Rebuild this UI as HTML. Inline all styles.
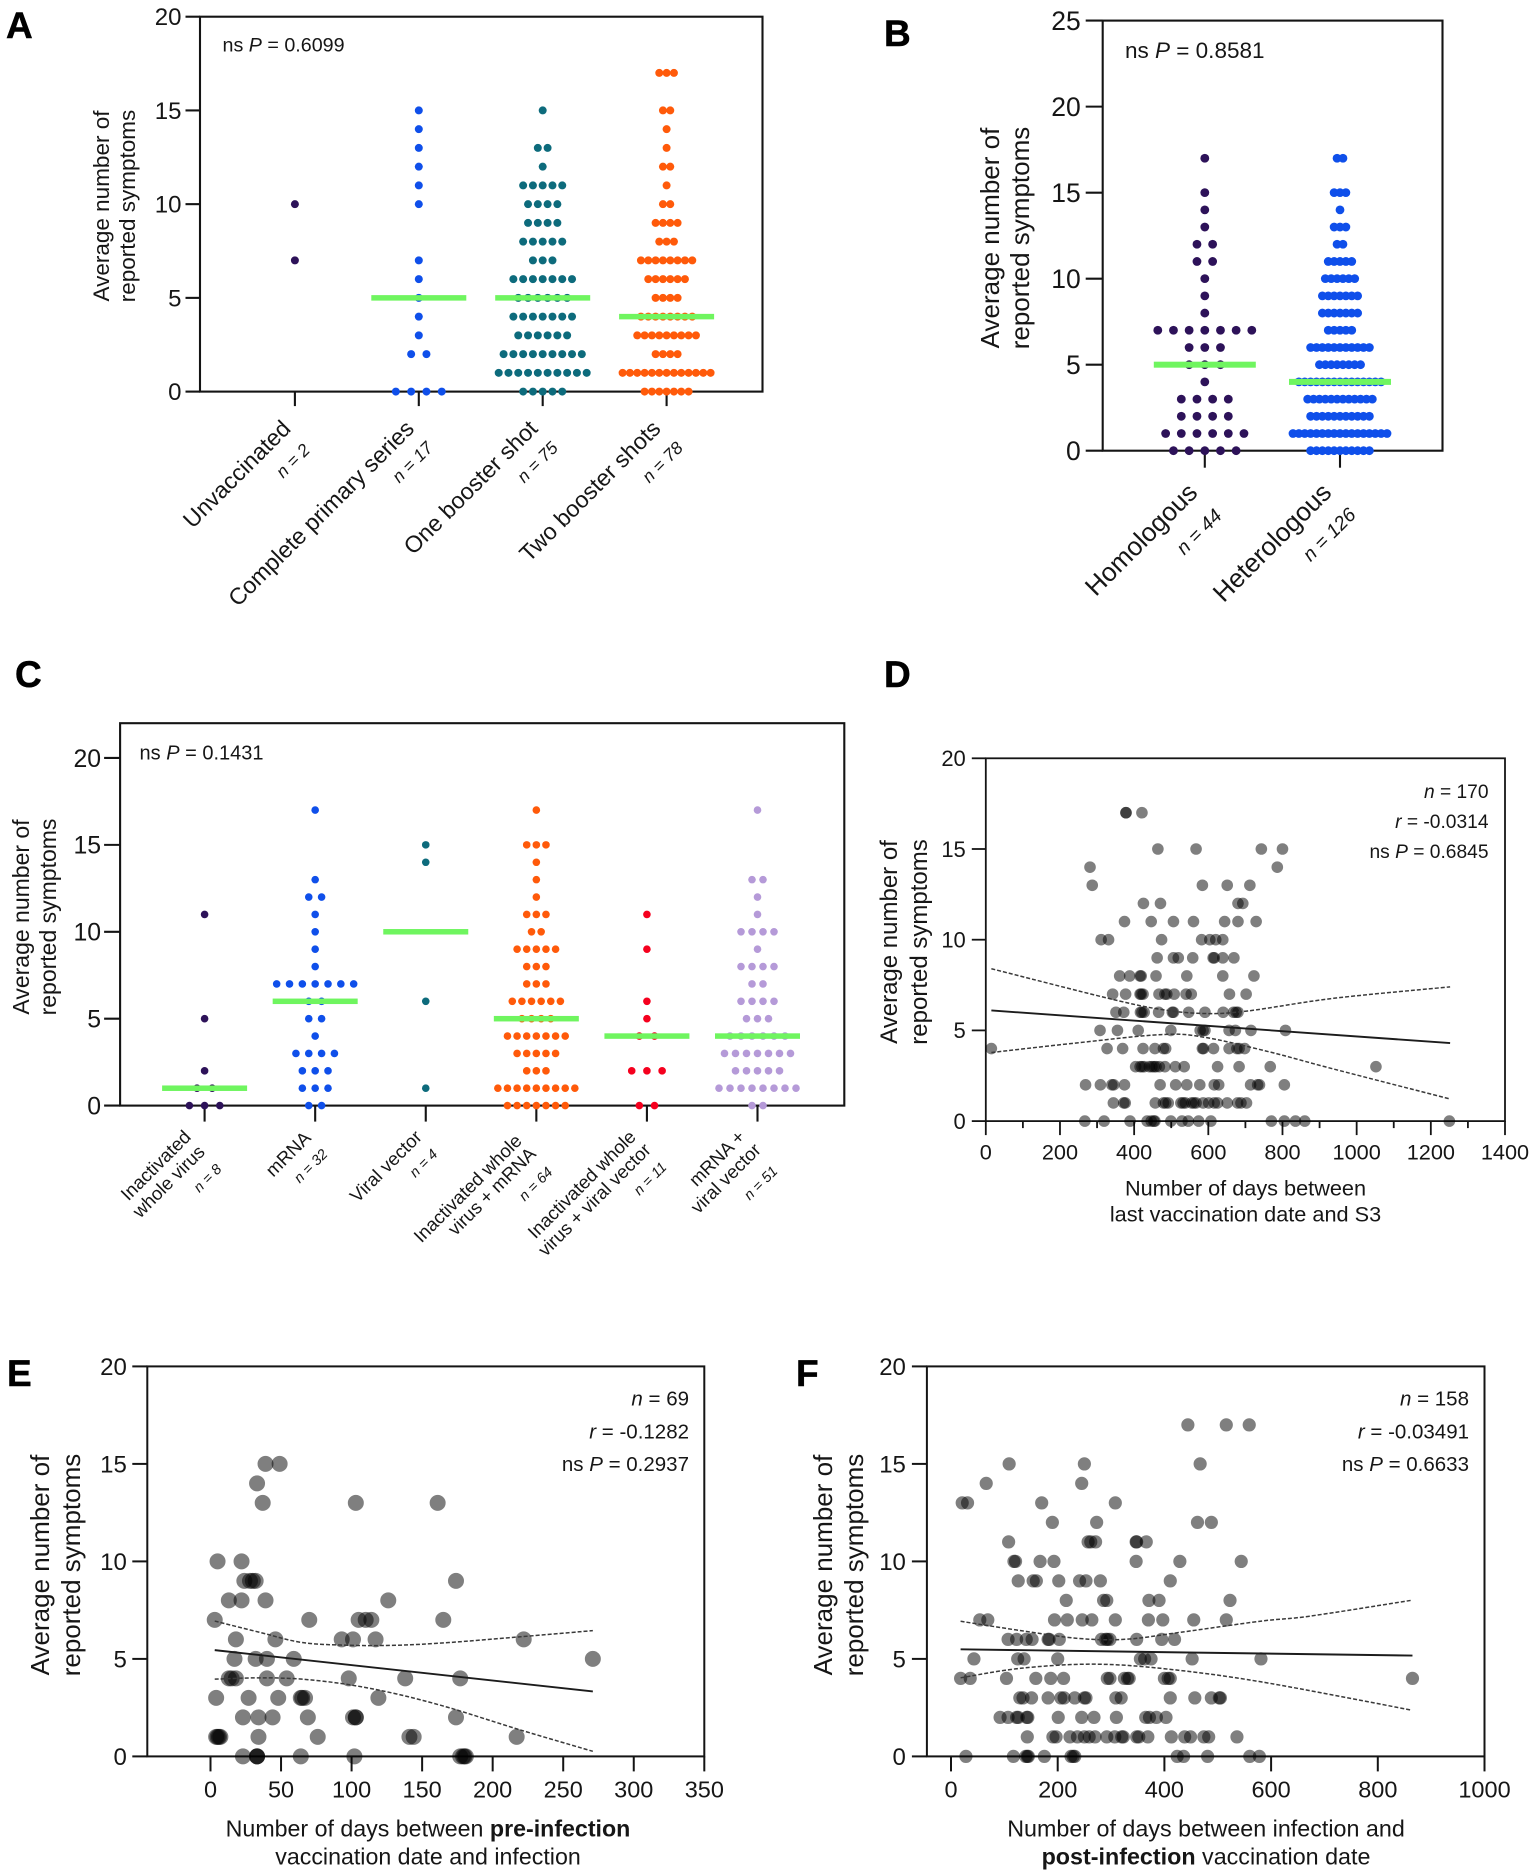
<!DOCTYPE html>
<html lang="en">
<head>
<meta charset="utf-8">
<title>Average number of reported symptoms by vaccination status</title>
<style>
  html, body { margin: 0; padding: 0; background: #fff; }
  #figure { display: block; width: 1535px; height: 1876px; font-family: "Liberation Sans", Arial, sans-serif; }
  #figure text { fill: #161616; font-family: "Liberation Sans", Arial, sans-serif; }
  #figure .panel-letter { font-weight: 700; font-size: 37px; fill: #000; stroke: #000; stroke-width: 0.5px; }
</style>
</head>
<body>
<svg id="figure" xmlns="http://www.w3.org/2000/svg" width="1535" height="1876" viewBox="0 0 1535 1876">
  <rect x="0" y="0" width="1535" height="1876" fill="#fff"/>
  <g id="marks"></g>

  <!-- Panel letters -->
  <text class="panel-letter" x="6" y="38">A</text>
  <text class="panel-letter" x="884" y="46">B</text>
  <text class="panel-letter" x="15" y="687">C</text>
  <text class="panel-letter" x="884" y="687">D</text>
  <text class="panel-letter" x="7" y="1386">E</text>
  <text class="panel-letter" x="796" y="1386">F</text>

  <!-- Panel A text -->
  <text x="222.5" y="51.5" font-size="19.7">ns <tspan font-style="italic">P</tspan> = 0.6099</text>
  <g font-size="22.5" text-anchor="middle">
    <text transform="translate(109,206) rotate(-90)">Average number of</text>
    <text transform="translate(135,206) rotate(-90)">reported symptoms</text>
  </g>
  <g font-size="23.2" text-anchor="end">
    <text transform="translate(292,430) rotate(-45)">Unvaccinated</text>
    <text transform="translate(415.5,430) rotate(-45)">Complete primary series</text>
    <text transform="translate(539,430) rotate(-45)">One booster shot</text>
    <text transform="translate(662,430) rotate(-45)">Two booster shots</text>
  </g>
  <g font-size="17.5" font-style="italic" text-anchor="end">
    <text transform="translate(311,451) rotate(-45)">n = 2</text>
    <text transform="translate(434,449) rotate(-45)">n = 17</text>
    <text transform="translate(559,449) rotate(-45)">n = 75</text>
    <text transform="translate(684,449) rotate(-45)">n = 78</text>
  </g>

  <!-- Panel B text -->
  <text x="1125" y="58" font-size="22.5">ns <tspan font-style="italic">P</tspan> = 0.8581</text>
  <g font-size="26" text-anchor="middle">
    <text transform="translate(999,238) rotate(-90)">Average number of</text>
    <text transform="translate(1029,238) rotate(-90)">reported symptoms</text>
  </g>
  <g font-size="26" text-anchor="end">
    <text transform="translate(1199,494) rotate(-45)">Homologous</text>
    <text transform="translate(1333,494) rotate(-45)">Heterologous</text>
  </g>
  <g font-size="19.5" font-style="italic" text-anchor="end">
    <text transform="translate(1223,517) rotate(-45)">n = 44</text>
    <text transform="translate(1357,516) rotate(-45)">n = 126</text>
  </g>

  <!-- Panel C text -->
  <text x="139.5" y="759.5" font-size="20">ns <tspan font-style="italic">P</tspan> = 0.1431</text>
  <g font-size="23" text-anchor="middle">
    <text transform="translate(29,917) rotate(-90)">Average number of</text>
    <text transform="translate(56,917) rotate(-90)">reported symptoms</text>
  </g>
  <g font-size="18.6" text-anchor="end">
    <text transform="translate(192,1138) rotate(-45)">Inactivated</text>
    <text transform="translate(206,1153) rotate(-45)">whole virus</text>
    <text transform="translate(312,1139) rotate(-45)">mRNA</text>
    <text transform="translate(423,1138) rotate(-45)">Viral vector</text>
    <text transform="translate(523,1142) rotate(-45)">Inactivated whole</text>
    <text transform="translate(537,1155) rotate(-45)">virus + mRNA</text>
    <text transform="translate(637,1138) rotate(-45)">Inactivated whole</text>
    <text transform="translate(652,1151) rotate(-45)">virus + viral vector</text>
    <text transform="translate(746,1138) rotate(-45)">mRNA +</text>
    <text transform="translate(762,1151) rotate(-45)">viral vector</text>
  </g>
  <g font-size="14.5" font-style="italic" text-anchor="end">
    <text transform="translate(222.5,1170) rotate(-45)">n = 8</text>
    <text transform="translate(328.5,1155) rotate(-45)">n = 32</text>
    <text transform="translate(438.5,1155) rotate(-45)">n = 4</text>
    <text transform="translate(553.5,1173) rotate(-45)">n = 64</text>
    <text transform="translate(667.5,1168) rotate(-45)">n = 11</text>
    <text transform="translate(778.5,1172) rotate(-45)">n = 51</text>
  </g>

  <!-- Panel D text -->
  <g font-size="19.2" text-anchor="end">
    <text x="1488.5" y="798"><tspan font-style="italic">n</tspan> = 170</text>
    <text x="1488.5" y="828"><tspan font-style="italic">r</tspan> = -0.0314</text>
    <text x="1488.5" y="858">ns <tspan font-style="italic">P</tspan> = 0.6845</text>
  </g>
  <g font-size="24" text-anchor="middle">
    <text transform="translate(897,942) rotate(-90)">Average number of</text>
    <text transform="translate(927,942) rotate(-90)">reported symptoms</text>
  </g>
  <g font-size="21.7" text-anchor="middle">
    <text x="1245.5" y="1195.5">Number of days between</text>
    <text x="1245.5" y="1221.5">last vaccination date and S3</text>
  </g>

  <!-- Panel E text -->
  <g font-size="20.5" text-anchor="end">
    <text x="689" y="1405.5"><tspan font-style="italic">n</tspan> = 69</text>
    <text x="689" y="1438.5"><tspan font-style="italic">r</tspan> = -0.1282</text>
    <text x="689" y="1471">ns <tspan font-style="italic">P</tspan> = 0.2937</text>
  </g>
  <g font-size="26" text-anchor="middle">
    <text transform="translate(49,1565) rotate(-90)">Average number of</text>
    <text transform="translate(80,1565) rotate(-90)">reported symptoms</text>
  </g>
  <g font-size="23.2" text-anchor="middle">
    <text x="428" y="1836.5">Number of days between <tspan font-weight="700">pre-infection</tspan></text>
    <text x="428" y="1864.5">vaccination date and infection</text>
  </g>

  <!-- Panel F text -->
  <g font-size="20.5" text-anchor="end">
    <text x="1469" y="1405.5"><tspan font-style="italic">n</tspan> = 158</text>
    <text x="1469" y="1438.5"><tspan font-style="italic">r</tspan> = -0.03491</text>
    <text x="1469" y="1471">ns <tspan font-style="italic">P</tspan> = 0.6633</text>
  </g>
  <g font-size="26" text-anchor="middle">
    <text transform="translate(832,1565) rotate(-90)">Average number of</text>
    <text transform="translate(863,1565) rotate(-90)">reported symptoms</text>
  </g>
  <g font-size="23.3" text-anchor="middle">
    <text x="1206" y="1836.5">Number of days between infection and</text>
    <text x="1206" y="1864.5"><tspan font-weight="700">post-infection</tspan> vaccination date</text>
  </g>
</svg>

<script>
/* ---------- Dot-plot data: each array gives the number of respondents at symptom count 0,1,2,... ---------- */
const aCategories = ['unvaccinated', 'complete-primary-series', 'one-booster-shot', 'two-booster-shots'];
const aUnvaccinated = [0,0,0,0,0,0,0,1,0,0,1];
const aPrimarySeries = [4,0,2,1,1,1,1,1,0,0,1,1,1,1,1,1];
const aOneBooster = [5,10,9,6,7,6,7,3,5,4,4,5,1,2,0,1];
const aTwoBoosters = [7,13,4,9,8,4,6,8,3,4,2,1,2,1,1,2,0,3];
const aMedians = [null, 5, 5, 4];
const aYTicks = [0, 5, 10, 15, 20];

const bCategories = ['homologous', 'heterologous'];
const bHomologous = [5,6,4,4,1,3,3,7,1,1,1,2,2,1,1,1,0,1];
const bHeterologous = [11,17,11,12,15,8,11,5,7,7,6,5,2,3,1,3,0,2];
const bMedians = [5, 4];
const bYTicks = [0, 5, 10, 15, 20, 25];

const cCategories = ['inactivated-whole-virus', 'mrna', 'viral-vector', 'inactivated-plus-mrna', 'inactivated-plus-viral-vector', 'mrna-plus-viral-vector'];
const cInactivated = [3,2,1,0,0,1,0,0,0,0,0,1];
const cMrna = [2,3,3,4,1,2,2,7,1,1,1,1,2,1,0,0,0,1];
const cViralVector = [0,1,0,0,0,0,1,0,0,0,0,0,0,0,1,1];
const cInactMrna = [7,9,3,5,7,4,6,3,3,5,2,3,1,1,1,3,0,1];
const cInactViral = [2,0,3,0,2,1,1,0,0,1,0,1];
const cMrnaViral = [2,8,5,7,6,3,4,2,4,1,4,1,1,2,0,0,0,1];
const cMedians = [1, 6, 10, 5, 4, 4];
const cYTicks = [0, 5, 10, 15, 20];

/* ---------- Scatter data: outer index is the symptom count, inner values are days ---------- */
const dDaysBySymptoms = [
  [267,319,389,435,446,453,456,499,529,546,574,607,770,805,835,860,1250],
  [344,372,376,457,479,485,492,526,532,538,555,561,567,586,601,616,625,651,679,688,703],
  [269,309,340,345,374,470,512,542,577,616,628,714,733,738,805],
  [404,416,421,427,441,448,454,459,468,483,511,535,625,683,767,1052],
  [15,327,369,424,456,479,485,584,587,614,656,677,683,698],
  [308,355,411,499,578,586,591,656,673,715,808],
  [351,372,417,421,427,466,503,506,547,591,640,668,675,680],
  [342,377,416,419,424,467,483,488,508,540,554,657,702],
  [361,388,416,419,459,542,639,723],
  [462,506,519,558,613,616,639,669],
  [311,331,474,582,604,620,639],
  [374,446,506,560,644,680,729],
  [425,471,680,693],
  [287,584,651,712],
  [281,786],
  [464,567,743,800],
  [],
  [378,378,421]
];
const dFitDays = [15, 1252];
const dFitSymptoms = [6.1, 4.3];
const dUpperDays = [15, 334, 474, 590, 706, 938, 1252];
const dUpperSymptoms = [8.4, 6.75, 6.15, 5.93, 6.07, 6.77, 7.4];
const dLowerDays = [15, 241, 474, 590, 764, 938, 1252];
const dLowerSymptoms = [3.78, 4.3, 4.77, 4.62, 3.82, 2.87, 1.22];
const dXTicks = [0, 200, 400, 600, 800, 1000, 1200, 1400];
const dXMinorTicks = [100, 300, 500, 700, 900, 1100, 1300];
const dYTicks = [0, 5, 10, 15, 20];

const eDaysBySymptoms = [
  [23,33,33,33,64,102,177,179,180,181],
  [4,5,6,7,34,76,141,144,217],
  [23,34,44,69,101,103,103,174],
  [4,27,48,64,65,67,119],
  [13,15,18,40,54,98,138,177],
  [17,32,40,59,271],
  [18,46,93,101,117,222],
  [3,70,105,110,114,165],
  [13,22,39,126],
  [24,28,30,32,174],
  [5,22],
  [],
  [],
  [37,103,161],
  [33],
  [39,49]
];
const eFitDays = [3, 271];
const eFitSymptoms = [5.45, 3.33];
const eUpperDays = [3, 35, 65, 98, 132, 169, 219, 271];
const eUpperSymptoms = [6.94, 6.36, 5.84, 5.7, 5.7, 5.84, 6.13, 6.45];
const eLowerDays = [3, 35, 65, 98, 132, 169, 219, 271];
const eLowerSymptoms = [3.96, 4.03, 3.96, 3.68, 3.2, 2.5, 1.37, 0.26];
const eXTicks = [0, 50, 100, 150, 200, 250, 300, 350];
const eYTicks = [0, 5, 10, 15, 20];

const fDaysBySymptoms = [
  [28,117,140,143,145,175,225,229,232,424,436,481,560,578],
  [143,191,197,223,237,250,259,270,292,307,320,323,348,352,369,413,438,449,474,483,536],
  [92,107,123,126,142,144,201,245,268,310,365,372,385,403],
  [129,135,151,182,206,212,232,250,253,309,319,411,457,488,503,505],
  [18,36,104,159,187,211,293,298,325,331,334,400,407,411,865],
  [43,125,137,200,355,363,375,452,581],
  [107,123,141,152,182,184,203,282,290,293,298,348,395,419],
  [54,69,194,218,246,264,308,370,397,455,516],
  [216,286,292,371,390,523],
  [126,154,160,202,241,253,280,411],
  [118,121,167,193,347,429,544],
  [108,257,262,271,347,348,366],
  [190,273,462,488],
  [21,31,170,308],
  [66,245],
  [109,250,467],
  [],
  [444,516,559]
];
const fFitDays = [18, 865];
const fFitSymptoms = [5.49, 5.17];
const fUpperDays = [18, 131, 239, 329, 429, 582, 672, 862];
const fUpperSymptoms = [6.93, 6.45, 6.05, 6.01, 6.36, 6.94, 7.19, 8];
const fLowerDays = [18, 131, 266, 402, 582, 862];
const fLowerSymptoms = [4.03, 4.52, 4.73, 4.49, 3.82, 2.38];
const fXTicks = [0, 200, 400, 600, 800, 1000];
const fYTicks = [0, 5, 10, 15, 20];

/* ---------- Drawing helpers ---------- */
const SVG_NS = 'http://www.w3.org/2000/svg';
const marks = document.getElementById('marks');

function linearScale(d0, d1, r0, r1) {
  return function (v) { return r0 + (v - d0) * (r1 - r0) / (d1 - d0); };
}
function make(tag, parent, props) {
  const node = document.createElementNS(SVG_NS, tag);
  Object.keys(props).forEach(function (k) { node.setAttribute(k, props[k]); });
  parent.appendChild(node);
  return node;
}
function label(node, name) {
  
  
  return node;
}
function drawLine(parent, x1, y1, x2, y2, width, name) {
  const ln = make('line', parent, { x1: x1, y1: y1, x2: x2, y2: y2, stroke: '#141414', 'stroke-width': width });
  return label(ln, name);
}
function drawTickText(parent, x, y, size, anchor, text, name) {
  const t = make('text', parent, { x: x, y: y, 'font-size': size, 'text-anchor': anchor });
  t.textContent = text;
  return label(t, name);
}
function drawFrame(g, cfg, yScale, yTicks, prefix) {
  const f = make('rect', g, { x: cfg.left, y: cfg.top, width: cfg.right - cfg.left, height: cfg.bottom - cfg.top, fill: 'none', stroke: '#141414', 'stroke-width': cfg.stroke });
  label(f, prefix + '-plot-frame');
  yTicks.forEach(function (v) {
    const y = yScale(v);
    drawLine(g, cfg.left - cfg.tickLen, y, cfg.left, y, cfg.stroke, prefix + '-y-tick-' + v);
    drawTickText(g, cfg.left - cfg.tickLen - cfg.labelGap, y + cfg.labelSize * 0.355, cfg.labelSize, 'end', String(v), prefix + '-y-tick-label-' + v);
  });
}

/* Dot plot: rows are centred on the category and spaced to fit the widest row */
function drawDotPlot(cfg, categories, seriesList, medians, yTicks, prefix) {
  const g = label(make('g', marks, {}), prefix + '-dot-plot');
  const yScale = linearScale(0, cfg.yMax, cfg.bottom, cfg.top);
  const xScale = linearScale(0, categories.length - 1, cfg.firstX, cfg.lastX);
  drawFrame(g, cfg, yScale, yTicks, prefix);
  categories.forEach(function (cat, i) {
    const cx = xScale(i);
    drawLine(g, cx, cfg.bottom, cx, cfg.bottom + cfg.tickLen, cfg.stroke, prefix + '-x-tick-' + cat);
    const counts = seriesList[i];
    const widest = Math.max.apply(null, counts);
    const gap = widest > 1 ? Math.min(cfg.maxGap, cfg.swarmWidth / (widest - 1)) : cfg.maxGap;
    counts.forEach(function (count, value) {
      for (let k = 0; k < count; k++) {
        const dot = make('circle', g, { cx: cx + (k - (count - 1) / 2) * gap, cy: yScale(value), r: cfg.radius, fill: cfg.colors[i] });
        label(dot, prefix + '-point-' + cat);
      }
    });
  });
  medians.forEach(function (m, i) {
    if (m === null) { return; }
    const bar = make('rect', g, { x: xScale(i) - cfg.medianWidth / 2, y: yScale(m) - cfg.medianHeight / 2, width: cfg.medianWidth, height: cfg.medianHeight, fill: '#6ff55f' });
    label(bar, prefix + '-median-' + categories[i]);
  });
}

/* Smooth path through the points of a confidence band */
function curvePath(xs, ys, xScale, yScale) {
  const p = xs.map(function (x, i) { return [xScale(x), yScale(ys[i])]; });
  let d = 'M' + p[0][0] + ' ' + p[0][1];
  for (let i = 0; i < p.length - 1; i++) {
    const a = p[Math.max(i - 1, 0)], b = p[i], c = p[i + 1], e = p[Math.min(i + 2, p.length - 1)];
    d += ' C' + (b[0] + (c[0] - a[0]) / 6) + ' ' + (b[1] + (c[1] - a[1]) / 6) + ' ' + (c[0] - (e[0] - b[0]) / 6) + ' ' + (c[1] - (e[1] - b[1]) / 6) + ' ' + c[0] + ' ' + c[1];
  }
  return d;
}

function drawScatter(cfg, data, prefix) {
  const g = label(make('g', marks, {}), prefix + '-scatter-plot');
  const yScale = linearScale(0, 20, cfg.bottom, cfg.top);
  const xScale = linearScale(0, cfg.xMax, cfg.x0, cfg.right);
  drawFrame(g, cfg, yScale, data.yTicks, prefix);
  data.xTicks.forEach(function (v) {
    const x = xScale(v);
    drawLine(g, x, cfg.bottom, x, cfg.bottom + cfg.tickLen, cfg.stroke, prefix + '-x-tick-' + v);
    drawTickText(g, x, cfg.xLabelY, cfg.xLabelSize, 'middle', String(v), prefix + '-x-tick-label-' + v);
  });
  data.minorTicks.forEach(function (v) {
    const x = xScale(v);
    drawLine(g, x, cfg.bottom, x, cfg.bottom + cfg.tickLen / 2, cfg.stroke, prefix + '-x-minor-tick-' + v);
  });
  data.points.forEach(function (row, symptoms) {
    row.forEach(function (days) {
      const dot = make('circle', g, { cx: xScale(days), cy: yScale(symptoms), r: cfg.radius, fill: '#000', 'fill-opacity': 0.5 });
      label(dot, prefix + '-point');
    });
  });
  const fit = make('line', g, { x1: xScale(data.fitX[0]), y1: yScale(data.fitY[0]), x2: xScale(data.fitX[1]), y2: yScale(data.fitY[1]), stroke: '#1c1c1c', 'stroke-width': 1.9 });
  label(fit, prefix + '-regression-line');
  const upper = make('path', g, { d: curvePath(data.upperX, data.upperY, xScale, yScale), fill: 'none', stroke: '#3a3a3a', 'stroke-width': 1.5, 'stroke-dasharray': '4 2' });
  label(upper, prefix + '-upper-confidence-band');
  const lower = make('path', g, { d: curvePath(data.lowerX, data.lowerY, xScale, yScale), fill: 'none', stroke: '#3a3a3a', 'stroke-width': 1.5, 'stroke-dasharray': '4 2' });
  label(lower, prefix + '-lower-confidence-band');
}

/* ---------- Panels ---------- */
drawDotPlot({
  left: 200, right: 762.5, top: 16.7, bottom: 391.6, yMax: 20, stroke: 2.1, tickLen: 14.5, labelGap: 4, labelSize: 24,
  firstX: 294.9, lastX: 666.6, radius: 4, swarmWidth: 88, maxGap: 15.3, medianWidth: 95, medianHeight: 5.5,
  colors: ['#2d1259', '#0f4fea', '#0d6b7c', '#ff5a0a']
}, aCategories, [aUnvaccinated, aPrimarySeries, aOneBooster, aTwoBoosters], aMedians, aYTicks, 'panel-a');

drawDotPlot({
  left: 1102.7, right: 1442.5, top: 20.6, bottom: 450.7, yMax: 25, stroke: 2.1, tickLen: 17, labelGap: 5, labelSize: 26.5,
  firstX: 1204.8, lastX: 1340, radius: 4.4, swarmWidth: 94, maxGap: 15.7, medianWidth: 102, medianHeight: 6,
  colors: ['#2d1259', '#0f4fea']
}, bCategories, [bHomologous, bHeterologous], bMedians, bYTicks, 'panel-b');

drawDotPlot({
  left: 120.1, right: 844.3, top: 723.2, bottom: 1105.6, yMax: 22, stroke: 2.1, tickLen: 16, labelGap: 3, labelSize: 24.8,
  firstX: 204.6, lastX: 757.5, radius: 3.8, swarmWidth: 77, maxGap: 15.2, medianWidth: 85, medianHeight: 5.5,
  colors: ['#2d1259', '#0f4fea', '#0d6b7c', '#ff5a0a', '#f5001e', '#b59ad8']
}, cCategories, [cInactivated, cMrna, cViralVector, cInactMrna, cInactViral, cMrnaViral], cMedians, cYTicks, 'panel-c');

drawScatter({
  left: 985.8, right: 1505, top: 758.3, bottom: 1121.1, x0: 985.8, xMax: 1400, stroke: 1.8, tickLen: 14, labelGap: 6, labelSize: 22,
  xLabelY: 1159.5, xLabelSize: 21.7, radius: 5.8
}, {
  points: dDaysBySymptoms, fitX: dFitDays, fitY: dFitSymptoms, upperX: dUpperDays, upperY: dUpperSymptoms,
  lowerX: dLowerDays, lowerY: dLowerSymptoms, xTicks: dXTicks, minorTicks: dXMinorTicks, yTicks: dYTicks
}, 'panel-d');

drawScatter({
  left: 147.3, right: 704.3, top: 1366.4, bottom: 1756.4, x0: 210.5, xMax: 350, stroke: 2, tickLen: 15, labelGap: 5.5, labelSize: 24,
  xLabelY: 1797.5, xLabelSize: 23.5, radius: 8
}, {
  points: eDaysBySymptoms, fitX: eFitDays, fitY: eFitSymptoms, upperX: eUpperDays, upperY: eUpperSymptoms,
  lowerX: eLowerDays, lowerY: eLowerSymptoms, xTicks: eXTicks, minorTicks: [], yTicks: eYTicks
}, 'panel-e');

drawScatter({
  left: 926.9, right: 1484.5, top: 1366.4, bottom: 1756.4, x0: 951, xMax: 1000, stroke: 2, tickLen: 15, labelGap: 6, labelSize: 24,
  xLabelY: 1797.5, xLabelSize: 23.5, radius: 6.6
}, {
  points: fDaysBySymptoms, fitX: fFitDays, fitY: fFitSymptoms, upperX: fUpperDays, upperY: fUpperSymptoms,
  lowerX: fLowerDays, lowerY: fLowerSymptoms, xTicks: fXTicks, minorTicks: [], yTicks: fYTicks
}, 'panel-f');
</script>
</body>
</html>
